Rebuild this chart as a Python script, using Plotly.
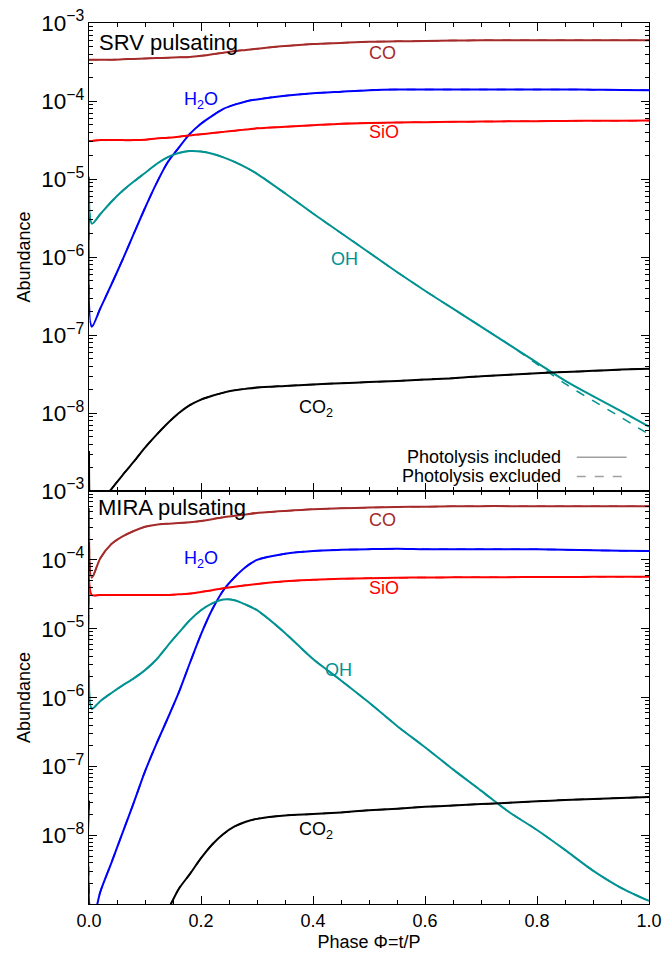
# Chemical abundances over one pulsation phase, SRV and MIRA models
import plotly.graph_objects as go
from plotly.subplots import make_subplots

# ---------------------------------------------------------
# data
# ---------------------------------------------------------
phase = [0.0, 0.005, 0.02, 0.04, 0.06, 0.08, 0.10, 0.12, 0.14, 0.16, 0.18,
         0.20, 0.22, 0.24, 0.26, 0.28, 0.30, 0.35, 0.40, 0.45, 0.50, 0.55,
         0.60, 0.65, 0.70, 0.75, 0.80, 0.85, 0.90, 0.95, 1.00]

# SRV pulsating
srv_co = [3.39e-4, 3.39e-4, 3.39e-4, 3.39e-4, 3.43e-4, 3.47e-4, 3.51e-4, 3.55e-4, 3.59e-4, 3.63e-4, 3.67e-4,
          3.80e-4, 3.98e-4, 4.17e-4, 4.37e-4, 4.52e-4, 4.68e-4, 5.07e-4, 5.37e-4, 5.56e-4, 5.75e-4, 5.82e-4,
          5.89e-4, 5.96e-4, 6.0e-4, 6.0e-4, 6.03e-4, 6.03e-4, 6.03e-4, 6.03e-4, 6.03e-4]
srv_h2o = [6.2e-6, 1.29e-7, 2.19e-7, 4.47e-7, 9.3e-7, 2.0e-6, 4.27e-6, 8.7e-6, 1.62e-5, 2.51e-5, 3.8e-5,
           5.13e-5, 6.46e-5, 7.94e-5, 9.0e-5, 9.9e-5, 1.05e-4, 1.17e-4, 1.26e-4, 1.32e-4, 1.38e-4, 1.41e-4,
           1.41e-4, 1.41e-4, 1.41e-4, 1.41e-4, 1.41e-4, 1.41e-4, 1.40e-4, 1.39e-4, 1.38e-4]
srv_sio = [3.09e-5, 3.09e-5, 3.16e-5, 3.16e-5, 3.16e-5, 3.16e-5, 3.2e-5, 3.31e-5, 3.39e-5, 3.5e-5, 3.63e-5,
           3.76e-5, 3.89e-5, 4.03e-5, 4.17e-5, 4.32e-5, 4.47e-5, 4.68e-5, 4.9e-5, 5.13e-5, 5.25e-5, 5.31e-5,
           5.37e-5, 5.42e-5, 5.46e-5, 5.5e-5, 5.53e-5, 5.56e-5, 5.59e-5, 5.6e-5, 5.62e-5]
srv_oh = [1.07e-5, 2.69e-6, 3.55e-6, 5.13e-6, 7.08e-6, 9.3e-6, 1.2e-5, 1.55e-5, 1.9e-5, 2.16e-5, 2.29e-5,
          2.26e-5, 2.11e-5, 1.9e-5, 1.66e-5, 1.41e-5, 1.17e-5, 6.6e-6, 3.63e-6, 2.04e-6, 1.15e-6, 6.46e-7,
          3.72e-7, 2.19e-7, 1.29e-7, 7.59e-8, 4.47e-8, 2.63e-8, 1.66e-8, 1.07e-8, 6.76e-9]
srv_oh_excl = [1.07e-5, 2.69e-6, 3.55e-6, 5.13e-6, 7.08e-6, 9.3e-6, 1.2e-5, 1.55e-5, 1.9e-5, 2.16e-5, 2.29e-5,
               2.26e-5, 2.11e-5, 1.9e-5, 1.66e-5, 1.41e-5, 1.17e-5, 6.6e-6, 3.63e-6, 2.04e-6, 1.15e-6, 6.46e-7,
               3.72e-7, 2.19e-7, 1.29e-7, 7.59e-8, 4.27e-8, 2.4e-8, 1.45e-8, 8.9e-9, 5.37e-9]
srv_co2 = [3.3e-9, 3.2e-10, 7.1e-10, 1.07e-9, 1.62e-9, 2.4e-9, 3.63e-9, 5.25e-9, 7.4e-9, 1.0e-8, 1.27e-8,
           1.5e-8, 1.68e-8, 1.84e-8, 1.97e-8, 2.06e-8, 2.14e-8, 2.24e-8, 2.34e-8, 2.43e-8, 2.51e-8, 2.6e-8,
           2.72e-8, 2.82e-8, 2.99e-8, 3.13e-8, 3.27e-8, 3.39e-8, 3.5e-8, 3.63e-8, 3.72e-8]

# MIRA pulsating
mira_co = [5.6e-4, 5.5e-5, 1.05e-4, 1.7e-4, 2.19e-4, 2.63e-4, 3.02e-4, 3.24e-4, 3.35e-4, 3.43e-4, 3.51e-4,
           3.67e-4, 3.89e-4, 4.17e-4, 4.37e-4, 4.57e-4, 4.79e-4, 5.13e-4, 5.43e-4, 5.62e-4, 5.75e-4, 5.86e-4,
           5.92e-4, 6.0e-4, 6.03e-4, 6.03e-4, 6.03e-4, 6.03e-4, 6.03e-4, 6.03e-4, 6.03e-4]
mira_h2o = [1.8e-4, 5.0e-10, 1.5e-9, 4.0e-9, 1.1e-8, 3.0e-8, 8.5e-8, 2.1e-7, 4.9e-7, 1.17e-6, 3.16e-6,
            8.3e-6, 1.9e-5, 3.63e-5, 5.6e-5, 7.9e-5, 1.0e-4, 1.23e-4, 1.35e-4, 1.4e-4, 1.43e-4, 1.45e-4,
            1.43e-4, 1.43e-4, 1.43e-4, 1.43e-4, 1.43e-4, 1.4e-4, 1.38e-4, 1.36e-4, 1.35e-4]
mira_sio = [5.13e-5, 3.09e-5, 3.09e-5, 3.09e-5, 3.09e-5, 3.09e-5, 3.09e-5, 3.09e-5, 3.09e-5, 3.16e-5, 3.24e-5,
            3.43e-5, 3.63e-5, 3.89e-5, 4.07e-5, 4.27e-5, 4.47e-5, 4.9e-5, 5.13e-5, 5.31e-5, 5.43e-5, 5.5e-5,
            5.56e-5, 5.58e-5, 5.6e-5, 5.62e-5, 5.64e-5, 5.65e-5, 5.67e-5, 5.68e-5, 5.69e-5]
mira_oh = [2.5e-6, 6.9e-7, 8.9e-7, 1.17e-6, 1.51e-6, 1.91e-6, 2.51e-6, 3.55e-6, 5.62e-6, 8.7e-6, 1.33e-5,
           1.86e-5, 2.34e-5, 2.66e-5, 2.6e-5, 2.24e-5, 1.86e-5, 8.7e-6, 3.63e-6, 1.78e-6, 8.5e-7, 3.89e-7,
           1.91e-7, 9.1e-8, 4.47e-8, 2.19e-8, 1.2e-8, 6.17e-9, 3.09e-9, 1.74e-9, 1.12e-9]
mira_co2 = [3.2e-8, 1e-10, 1e-10, 1e-10, 1e-10, 1e-10, 2e-10, 4e-10, 8e-10, 1.66e-9, 2.75e-9,
            4.68e-9, 7.4e-9, 1.05e-8, 1.35e-8, 1.58e-8, 1.74e-8, 1.95e-8, 2.04e-8, 2.16e-8, 2.32e-8, 2.45e-8,
            2.6e-8, 2.72e-8, 2.85e-8, 2.99e-8, 3.13e-8, 3.27e-8, 3.39e-8, 3.5e-8, 3.63e-8]

species = ['CO', 'H<sub>2</sub>O', 'SiO', 'OH', 'CO<sub>2</sub>']
colors = ['#a52a2a', '#0000ff', '#ff0000', '#009292', '#000000']

srv_incl = [srv_co, srv_h2o, srv_sio, srv_oh, srv_co2]
srv_excl = [srv_co, srv_h2o, srv_sio, srv_oh_excl, srv_co2]
mira_incl = [mira_co, mira_h2o, mira_sio, mira_oh, mira_co2]
mira_excl = [mira_co, mira_h2o, mira_sio, mira_oh, mira_co2]

# label positions (phase, log10 abundance)
srv_label_pos = [(0.524, -3.39), (0.20, -3.99), (0.527, -4.40), (0.457, -6.02), (0.405, -7.94)]
mira_label_pos = [(0.524, -3.42), (0.20, -4.00), (0.527, -4.41), (0.445, -5.60), (0.405, -7.93)]

FONT = 'Liberation Sans, Arial, sans-serif'
FS = 18

# ---------------------------------------------------------
# figure
# ---------------------------------------------------------
fig = make_subplots(rows=2, cols=1, shared_xaxes=True,
                    vertical_spacing=0, row_heights=[468, 413])

for row, incl, excl in [(1, srv_incl, srv_excl), (2, mira_incl, mira_excl)]:
    for name, col, ye in zip(species, colors, excl):
        fig.add_trace(go.Scatter(x=phase, y=ye, mode='lines', showlegend=False,
                                 line=dict(color=col, width=1.5, dash='dash',
                                           shape='spline', smoothing=0.8),
                                 hoverinfo='skip'), row=row, col=1)
    for name, col, yi in zip(species, colors, incl):
        fig.add_trace(go.Scatter(x=phase, y=yi, mode='lines', name=name, showlegend=False,
                                 line=dict(color=col, width=2, shape='spline', smoothing=0.8)),
                      row=row, col=1)

for row, pos in [(1, srv_label_pos), (2, mira_label_pos)]:
    for name, col, (xl, yl) in zip(species, colors, pos):
        fig.add_annotation(x=xl, y=yl, text=name, showarrow=False,
                           font=dict(color=col, size=FS, family=FONT),
                           row=row, col=1)

# panel titles
fig.add_annotation(text='SRV pulsating', x=0.015, y=0.959, xref='x domain', yref='y domain',
                   xanchor='left', yanchor='middle', showarrow=False,
                   font=dict(size=22, family=FONT, color='black'))
fig.add_annotation(text='MIRA pulsating', x=0.012, y=0.959, xref='x2 domain', yref='y2 domain',
                   xanchor='left', yanchor='middle', showarrow=False,
                   font=dict(size=22, family=FONT, color='black'))

# key (text on the left, line sample on the right)
for text, yk, dash in [('Photolysis included', 0.072, 'solid'),
                       ('Photolysis excluded', 0.031, 'dash')]:
    fig.add_annotation(text=text, x=0.847, y=yk, xref='x domain', yref='y domain',
                       xanchor='right', yanchor='middle', showarrow=False,
                       font=dict(size=FS, family=FONT, color='black'))
    fig.add_shape(type='line', xref='x domain', yref='y domain',
                  x0=0.871, x1=0.960, y0=yk, y1=yk,
                  line=dict(color='#a0a0a0', width=1.5, dash=dash))

axis_common = dict(showline=True, linecolor='black', linewidth=1.3, mirror='allticks',
                   ticks='inside', ticklen=8, tickcolor='black', showgrid=False, zeroline=False,
                   automargin=False, ticklabeloverflow='allow',
                   tickfont=dict(size=FS, family=FONT, color='black'))

fig.update_yaxes(type='log', range=[-8.995, -3], dtick=1, exponentformat='power',
                 minor=dict(ticks='inside', ticklen=4, tickcolor='black'),
                 title=dict(text='Abundance', standoff=5,
                            font=dict(size=FS, family=FONT, color='black')),
                 **axis_common)
fig.update_xaxes(range=[0, 1], dtick=0.2, tickformat='.1f',
                 minor=dict(dtick=0.05, ticks='inside', ticklen=4, tickcolor='black'),
                 **axis_common)
fig.update_xaxes(showticklabels=False, row=1, col=1)
fig.update_xaxes(title=dict(text='Phase Φ=t/P', standoff=10,
                            font=dict(size=FS, family=FONT, color='black')),
                 row=2, col=1)

# page body adds an 8px margin, so the figure is sized to fit inside the window
fig.update_layout(
    width=662, height=944,
    margin=dict(l=81, r=21, t=15, b=48),
    plot_bgcolor='white', paper_bgcolor='white',
    font=dict(family=FONT, color='black'),
)

fig.write_html("out.html")
